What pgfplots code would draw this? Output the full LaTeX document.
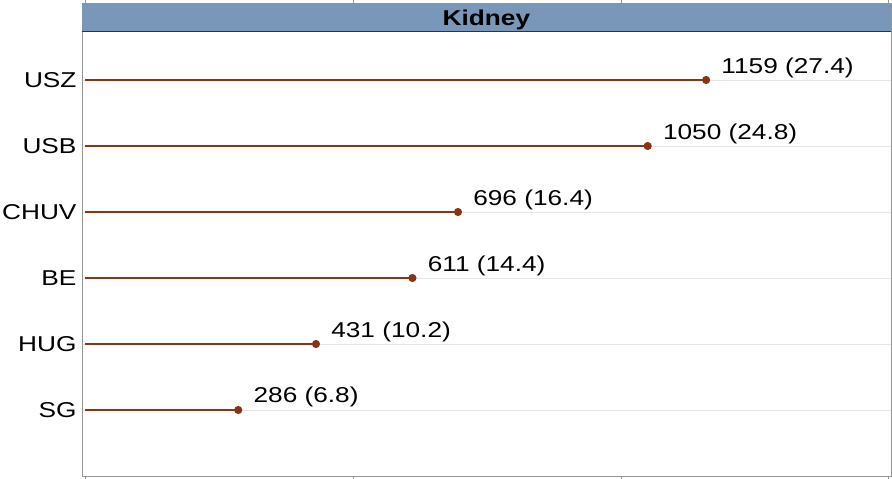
\documentclass[border=0pt]{standalone}
\usepackage{pgfplots}
\pgfplotsset{compat=1.18}
\usepackage{pgfplotstable}
\usepackage{fontspec}
\setmainfont{Liberation Sans}[FakeStretch=1.22]
\definecolor{lolly}{RGB}{139,52,18}
\definecolor{headerblue}{RGB}{121,151,185}
\definecolor{framegray}{RGB}{150,150,150}
\definecolor{gridgray}{RGB}{230,230,230}
\pgfplotstableread[col sep=comma,row sep=\\]{
v,y,label\\
1159,6,1159 (27.4)\\
1050,5,1050 (24.8)\\
696,4,696 (16.4)\\
611,3,611 (14.4)\\
431,2,431 (10.2)\\
286,1,286 (6.8)\\
}\datatable
\begin{document}
\begin{tikzpicture}
\begin{axis}[
  at={(0pt,0pt)}, anchor=south west,
  scale only axis, width=809pt, height=473pt,
  xmin=-5.6, xmax=1504, ymin=0, ymax=7.167,
  xtick={0,500,1000,1500}, xticklabels={},
  ytick={1,2,3,4,5,6},
  yticklabels={SG,HUG,BE,CHUV,USB,USZ},
  tick align=outside,
  major tick length=3pt,
  ytick style={draw=none},
  xtick style={draw=framegray, line width=0.8pt},
  axis line style={draw=framegray, line width=0.8pt},
  ymajorgrids, grid style={draw=gridgray, line width=0.8pt},
  tick label style={font=\fontsize{21.5}{25}\selectfont, text=black},
  y tick label style={xshift=1pt},
  clip=false,
]
\fill[headerblue] (axis cs:-5.6,6.742) rectangle (axis cs:1504,7.167);
\draw[black!80, line width=0.8pt] (axis cs:-5.6,6.742) -- (axis cs:1504,6.742);
\node[anchor=base, font=\bfseries\fontsize{21.5}{25}\selectfont] at (axis cs:749,6.833) {Kidney};
\addplot[xcomb, draw=lolly, line width=2pt, mark=*, mark size=3pt,
  mark options={fill=lolly, draw=lolly},
  point meta=explicit symbolic,
  nodes near coords,
  nodes near coords style={anchor=base west, xshift=11pt, yshift=7pt,
    font=\fontsize{21.5}{25}\selectfont, text=black}]
  table[x=v, y=y, meta=label] {\datatable};
\end{axis}
\pgfresetboundingbox
\path (-82pt,-3pt) rectangle (810pt,476pt);
\end{tikzpicture}
\end{document}
